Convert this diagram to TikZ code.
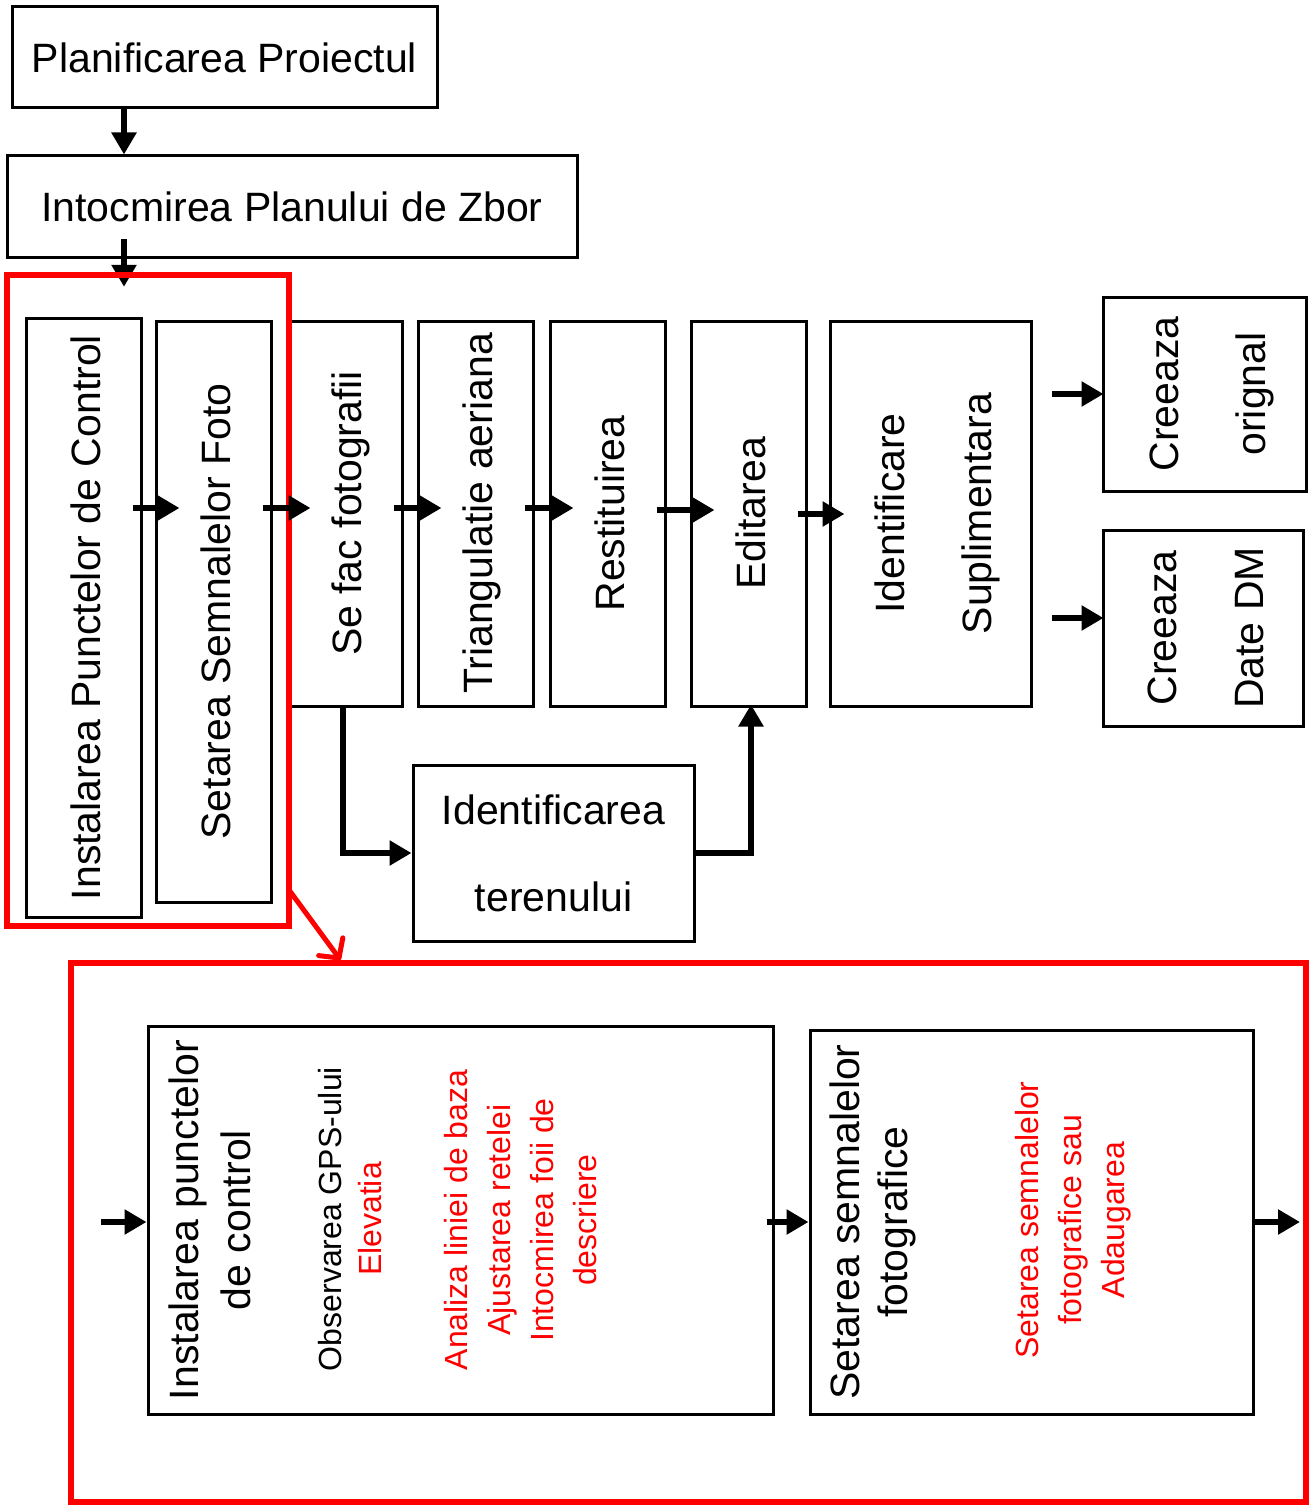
\documentclass[tikz,border=0pt]{standalone}
\usepackage{fontspec}
\setmainfont{Liberation Sans}
\usetikzlibrary{arrows.meta}
\newcommand{\vtxt}[1]{\rotatebox{90}{\begin{tabular}{@{}c@{}}#1\end{tabular}}}
\begin{document}
\begin{tikzpicture}[x=1pt, y=-1pt,
  box/.style={draw, line width=3pt, inner sep=0pt, align=center, font=\fontsize{41}{87}\selectfont},
  mic/.style={inner sep=0pt, font=\fontsize{32}{43}\selectfont},
  arr/.style={line width=6pt, -{Triangle[length=22pt,width=24pt]}},
  pas/.style={arr, shorten <=-10pt, shorten >=-25pt},
  cadru/.style={draw=red, line width=6pt}]
\useasboundingbox (0,0) rectangle (1311,1506);
\coordinate (colA) at (124,0);
\coordinate (row) at (0,508);
\coordinate (row2) at (0,1222);
\node (plan) [box, minimum width=425pt, minimum height=101pt] at (224.5,57.5) {Planificarea Proiectul};
\node (zbor) [box, minimum width=570pt, minimum height=102pt] at (292,207) {Intocmirea Planului de Zbor};
\node (inst) [box, minimum width=115pt, minimum height=599pt] at (83.5,617.5) {\vtxt{Instalarea Punctelor de Control}};
\node (seta) [box, minimum width=115pt, minimum height=581pt] at (213.5,611.5) {\vtxt{Setarea Semnalelor Foto}};
\node (foto) [box, minimum width=115pt, minimum height=385pt] at (344.5,513.5) {\vtxt{Se fac fotografii}};
\node (tria) [box, minimum width=115pt, minimum height=385pt] at (475.5,513.5) {\vtxt{Triangulatie aeriana}};
\node (rest) [box, minimum width=115pt, minimum height=385pt] at (607.5,513.5) {\vtxt{Restituirea}};
\node (edit) [box, minimum width=115pt, minimum height=385pt] at (748.5,513.5) {\vtxt{Editarea}};
\node (supl) [box, minimum width=201pt, minimum height=385pt] at (930.5,513.5) {\vtxt{Identificare\\Suplimentara}};
\node (orig) [box, minimum width=203pt, minimum height=194pt] at (1204.5,394) {\vtxt{Creeaza\\orignal}};
\node (date) [box, minimum width=200pt, minimum height=196pt] at (1203,628) {\vtxt{Creeaza\\Date DM}};
\node (teren) [box, minimum width=281pt, minimum height=176pt] at (553.5,853) {Identificarea\\terenului};
\node (grup) [minimum width=282pt, minimum height=651pt, inner sep=0pt] at (148,600.5) {};
\draw[arr] (plan.south -| colA) -- (zbor.north -| colA);
\draw[arr, shorten <=-20pt, shorten >=-12pt] (zbor.south -| colA) -- (grup.north -| colA);
\draw[cadru] (grup.north west) rectangle (grup.south east);
\draw[pas] (inst.east |- row) -- (seta.west |- row);
\draw[pas] (seta.east |- row) -- (foto.west |- row);
\draw[pas] (foto.east |- row) -- (tria.west |- row);
\draw[pas] (tria.east |- row) -- (rest.west |- row);
\draw[pas] ([yshift=-2pt]rest.east |- row) -- ([yshift=-2pt]edit.west |- row);
\draw[arr, shorten <=-10pt, shorten >=-16pt] ([yshift=-6pt]edit.east |- row) -- ([yshift=-6pt]supl.west |- row);
\draw[arr, shorten <=19pt, shorten >=-2pt] (supl.east |- orig) -- (orig.west);
\draw[arr, shorten <=19pt, shorten >=-2pt] ([yshift=10pt]supl.east |- date) -- ([yshift=10pt]date.west);
\draw[arr] ([xshift=-2pt]foto.south) |- (teren.west);
\draw[arr, shorten >=-3pt] (teren.east) -| ([xshift=2.5pt]edit.south);
\node (detaliu) [cadru, minimum width=1235pt, minimum height=539pt, inner sep=0pt] at (688.5,1232.5) {};
\draw[red, line width=5pt, -{Straight Barb[length=14pt,width=30pt,round]}] ([yshift=36pt]grup.south east) -- ([xshift=-348pt]detaliu.north);
\node (pct) [box, minimum width=625pt, minimum height=388pt] at (460.5,1220) {};
\node (pctT) [inner sep=0pt, font=\fontsize{41}{52}\selectfont] at (214,1220) {\vtxt{Instalarea punctelor\\de control}};
\node (pctObs) [mic, font=\fontsize{32}{40}\selectfont] at (353,1219) {\vtxt{Observarea GPS-ului\\\color{red}Elevatia}};
\node (pctRed) [mic, text=red] at (523,1220) {\vtxt{Analiza liniei de baza\\Ajustarea retelei\\Intocmirea foii de\\descriere}};
\node (semn) [box, minimum width=443pt, minimum height=384pt] at (1031.5,1222) {};
\node (semnT) [inner sep=0pt, font=\fontsize{41}{48}\selectfont] at (874,1222) {\vtxt{Setarea semnalelor\\fotografice}};
\node (semnRed) [mic, text=red] at (1073,1220) {\vtxt{Setarea semnalelor\\fotografice sau\\Adaugarea}};
\coordinate (intrare) at (101,1222);
\coordinate (iesire) at (1300,1222);
\draw[arr] (intrare) -- (pct.west |- row2);
\draw[arr, shorten <=-8pt] (pct.east |- row2) -- (semn.west |- row2);
\draw[arr] (semn.east |- row2) -- (iesire);
\end{tikzpicture}
\end{document}
